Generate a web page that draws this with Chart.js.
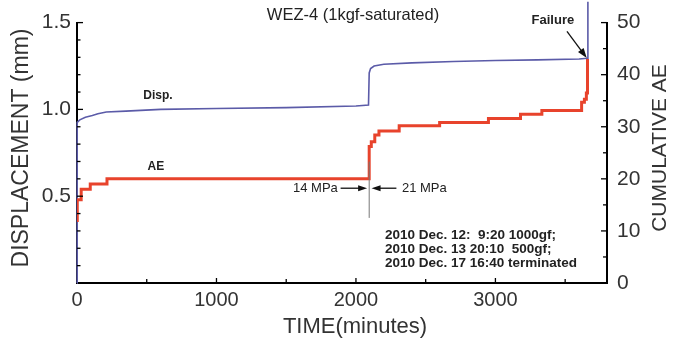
<!DOCTYPE html>
<html><head><meta charset="utf-8">
<script src="https://cdn.jsdelivr.net/npm/chart.js@4.4.1/dist/chart.umd.min.js"></script>
<style>html,body{margin:0;padding:0;background:#fff;}canvas{display:block;}</style>
</head><body>
<canvas id="c" width="677" height="342"></canvas>
<script>
// ---- data ----
const dispTime  = [0, 0, 3, 20, 60, 110, 150, 210, 350, 600, 1000, 1500, 2000, 2090, 2095, 2105, 2130, 2200, 2400, 2700, 3000, 3300, 3600, 3660, 3663];
const dispValue = [0, 0.90, 0.925, 0.94, 0.955, 0.965, 0.975, 0.985, 0.99, 1.0, 1.005, 1.01, 1.02, 1.025, 1.21, 1.235, 1.25, 1.26, 1.268, 1.276, 1.282, 1.285, 1.29, 1.295, 1.62];
const aeTime  = [0, 2, 30, 95, 215, 2095, 2110, 2135, 2165, 2310, 2600, 2950, 3180, 3333, 3618, 3638, 3652, 3660];
const aeValue = [12, 16, 18, 19, 20, 26.2, 27.1, 28.4, 29.2, 30.2, 30.8, 31.6, 32.4, 33.1, 34.7, 35.3, 36.5, 43];
const xTickValues    = [0, 1000, 2000, 3000];
const dispTickValues = [0.5, 1.0, 1.5];
const aeTickValues   = [0, 10, 20, 30, 40, 50];

const chartTitle = 'WEZ-4 (1kgf-saturated)';
const xTitle = 'TIME(minutes)';
const yLeftTitle = 'DISPLACEMENT (mm)';
const yRightTitle = 'CUMULATIVE AE';
const noteLines = ['2010 Dec. 12:  9:20 1000gf;', '2010 Dec. 13 20:10  500gf;', '2010 Dec. 17 16:40 terminated'];

const FONT = '"Liberation Sans", Arial, Helvetica, sans-serif';
const BLUE = '#5b5ba8';
const RED = '#e8432c';

const decor = {
  id: 'decor',
  afterDraw(chart) {
    const {ctx, chartArea: a, scales} = chart;
    const x = scales.x, yL = scales.yL, yR = scales.yR;
    const X = t => x.getPixelForValue(t);
    const YR = v => yR.getPixelForValue(v);
    const YL = v => yL.getPixelForValue(v);
    ctx.save();
    // inward ticks
    ctx.strokeStyle = '#000';
    ctx.lineWidth = 1.3;
    const line = (x1, y1, x2, y2) => { ctx.beginPath(); ctx.moveTo(x1, y1); ctx.lineTo(x2, y2); ctx.stroke(); };
    for (let i = 1; i * 500 <= x.max; i++) {
      const px = X(i * 500); const len = i % 2 === 0 ? 5 : 4;
      line(px, a.bottom, px, a.bottom - len);
    }
    for (let i = 1; i <= 15; i++) {
      const py = YL(i * 0.1); const len = i % 5 === 0 ? 6 : 3.5;
      line(a.left, py, a.left + len, py);
    }
    for (let i = 1; i <= 10; i++) {
      const py = YR(i * 5); const len = i % 2 === 0 ? 6 : 4;
      line(a.right, py, a.right - len, py);
    }
    // stress-change marker
    ctx.strokeStyle = '#777';
    ctx.lineWidth = 1;
    line(X(2095), YR(23.3), X(2095), YR(12.5));
    // arrows
    const arrow = (x1, y1, x2, y2, hl, hw) => {
      const ang = Math.atan2(y2 - y1, x2 - x1);
      ctx.strokeStyle = '#111'; ctx.fillStyle = '#111'; ctx.lineWidth = 1.3;
      line(x1, y1, x2 - Math.cos(ang) * hl * 0.8, y2 - Math.sin(ang) * hl * 0.8);
      ctx.beginPath();
      ctx.moveTo(x2, y2);
      ctx.lineTo(x2 - Math.cos(ang) * hl - Math.sin(ang) * hw, y2 - Math.sin(ang) * hl + Math.cos(ang) * hw);
      ctx.lineTo(x2 - Math.cos(ang) * hl + Math.sin(ang) * hw, y2 - Math.sin(ang) * hl - Math.cos(ang) * hw);
      ctx.closePath(); ctx.fill();
    };
    arrow(X(1890), YR(18.2), X(2080), YR(18.2), 9, 3);
    arrow(X(2290), YR(18.2), X(2112), YR(18.2), 9, 3);
    arrow(X(3513), YR(48.3), X(3655), YR(43.2), 10, 3.5);
    // texts
    ctx.fillStyle = '#222';
    ctx.textBaseline = 'middle';
    ctx.textAlign = 'center';
    ctx.font = '16.5px ' + FONT;
    ctx.fillText(chartTitle, 353, 15);
    ctx.font = 'bold 12px ' + FONT;
    ctx.fillText('Disp.', X(580), YL(1.08));
    ctx.fillText('AE', X(566), YR(22.3));
    ctx.font = 'bold 13px ' + FONT;
    ctx.fillText('Failure', X(3412), YR(50.4));
    ctx.font = '13px ' + FONT;
    ctx.textAlign = 'right';
    ctx.fillText('14 MPa', X(1870), YR(18.2));
    ctx.textAlign = 'left';
    ctx.fillText('21 MPa', X(2330), YR(18.2));
    ctx.font = 'bold 13.5px ' + FONT;
    const noteY = [9.1, 6.45, 3.8];
    noteLines.forEach((s, i) => ctx.fillText(s, X(2208), YR(noteY[i])));
    // axis titles
    ctx.fillStyle = '#333';
    ctx.textAlign = 'center';
    ctx.font = '22px ' + FONT;
    ctx.fillText(xTitle, 355, 327);
    ctx.save(); ctx.translate(22, 148); ctx.rotate(-Math.PI / 2);
    ctx.font = '23px ' + FONT; ctx.fillText(yLeftTitle, 0, 0); ctx.restore();
    ctx.save(); ctx.translate(660, 148); ctx.rotate(-Math.PI / 2);
    ctx.font = '21px ' + FONT; ctx.fillText(yRightTitle, 0, 0); ctx.restore();
    ctx.restore();
  }
};

new Chart(document.getElementById('c'), {
  type: 'line',
  data: {
    datasets: [
      {
        label: 'AE', yAxisID: 'yR',
        data: aeTime.map((t, i) => ({x: t, y: aeValue[i]})),
        borderColor: RED, borderWidth: 3, pointRadius: 0, stepped: true, fill: false, tension: 0
      },
      {
        label: 'Disp.', yAxisID: 'yL',
        data: dispTime.map((t, i) => ({x: t, y: dispValue[i]})),
        borderColor: BLUE, borderWidth: 1.6, pointRadius: 0, fill: false, tension: 0, clip: false
      }
    ]
  },
  options: {
    responsive: false, animation: false, devicePixelRatio: 1,
    layout: {padding: {top: 19, left: 0, right: 0, bottom: 0}},
    plugins: {legend: {display: false}, tooltip: {enabled: false}, title: {display: false}},
    scales: {
      x: {
        type: 'linear', min: 0, max: 3800, position: 'bottom',
        afterBuildTicks: s => { s.ticks = xTickValues.map(v => ({value: v})); },
        afterFit: s => { s.height = 59; },
        grid: {display: false, drawTicks: false},
        border: {display: true, color: '#000', width: 2},
        ticks: {padding: 5, color: '#333', font: {family: FONT, size: 20}, maxRotation: 0, callback: v => String(v)}
      },
      yL: {
        type: 'linear', min: 0, max: 1.5, position: 'left',
        afterBuildTicks: s => { s.ticks = dispTickValues.map(v => ({value: v})); },
        afterFit: s => { s.width = 77; },
        grid: {display: false, drawTicks: false},
        border: {display: true, color: '#000', width: 2},
        ticks: {padding: 6, color: '#333', font: {family: FONT, size: 21}, callback: v => Number(v).toFixed(1)}
      },
      yR: {
        type: 'linear', min: 0, max: 50, position: 'right',
        afterBuildTicks: s => { s.ticks = aeTickValues.map(v => ({value: v})); },
        afterFit: s => { s.width = 70; },
        grid: {display: false, drawTicks: false},
        border: {display: true, color: '#000', width: 2},
        ticks: {padding: 10, color: '#333', font: {family: FONT, size: 21}, callback: v => String(v)}
      }
    }
  },
  plugins: [decor]
});
</script>
</body></html>
